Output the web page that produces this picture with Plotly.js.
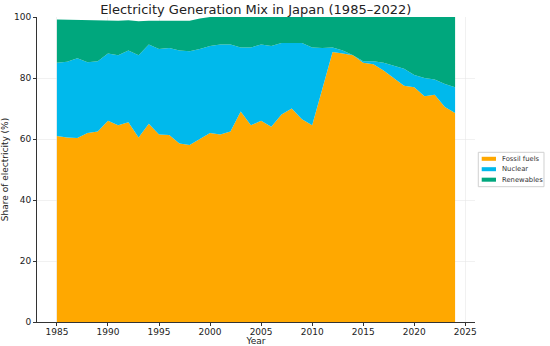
<!DOCTYPE html>
<html>
<head>
<meta charset="utf-8">
<script src="https://cdn.plot.ly/plotly-3.0.1.min.js"></script>
<style>html,body{margin:0;padding:0;background:#fff;}#chart{width:550px;height:346px;}</style>
</head>
<body>
<div id="chart"></div>
<script>
const years = [1985,1986,1987,1988,1989,1990,1991,1992,1993,1994,1995,1996,1997,1998,1999,2000,2001,2002,2003,2004,2005,2006,2007,2008,2009,2010,2011,2012,2013,2014,2015,2016,2017,2018,2019,2020,2021,2022,2023,2024];
const fossil = [61,60.5,60.3,62,62.5,66,64.5,65.5,60.5,65,61.5,61.3,58.5,58,60,62,61.5,62.5,69,64.5,66,64,68,70,66.5,64.5,76.5,88.5,88,87.5,85,84.5,82.5,80,77.5,77,74,74.5,70.5,68.5];
const nuclear = [24,24.8,26.2,23.2,23,22,23,23.5,27,26,28,28.5,30.5,30.8,29.5,28.5,29.5,28.5,21,25.5,25,26.5,23.5,21.5,25,25.5,13.3,1.5,1,0,0.5,1,2.5,4,5.5,4,6,5,7.5,8.5];
const renewables = [14.2,13.8,12.5,13.9,13.5,10.9,11.3,9.9,11.1,7.8,9.3,8.9,9.6,10,10,9.5,9,9,10,10,9,9.5,8.5,8.5,8.5,10,10.2,10,11,12.5,14.5,14.5,15,16,17,19,20,20.5,22,23];
const seriesNames = ["Fossil fuels","Nuclear","Renewables"];
const colors = ["#FFA800","#00B9EC","#00A77D"];
const xTicks = [1985,1990,1995,2000,2005,2010,2015,2020,2025];
const yTicks = [0,20,40,60,80,100];

const data = [fossil, nuclear, renewables].map((v,i)=>({
  x: years, y: v, name: seriesNames[i], type:'scatter', mode:'lines',
  stackgroup:'one', line:{width:0, color:colors[i]}, fillcolor:colors[i], showlegend:false
}));

// compact legend drawn in paper coordinates
const legX0 = 1.0075, legX1 = 1.1575, legY0 = 0.4436, legY1 = 0.5564;
const rowY = [0.5351, 0.5010, 0.4666];
const shapes = [{type:'rect', xref:'paper', yref:'paper', x0:legX0, x1:legX1, y0:legY0, y1:legY1,
  line:{color:'#d0d0d0', width:1}, fillcolor:'#fff', layer:'above'}];
const annotations = [];
seriesNames.forEach((n,i)=>{
  shapes.push({type:'rect', xref:'paper', yref:'paper', x0:1.0153, x1:1.0479, y0:rowY[i]-0.0066, y1:rowY[i]+0.0066,
    line:{width:0}, fillcolor:colors[i], layer:'above'});
  annotations.push({xref:'paper', yref:'paper', x:1.0585, y:rowY[i], xanchor:'left', yanchor:'middle',
    text:n, showarrow:false, font:{size:6.8, color:'#333'}, borderpad:0});
});

const layout = {
  width:550, height:346,
  margin:{l:37,r:75,t:17,b:24, autoexpand:false},
  paper_bgcolor:'#fff', plot_bgcolor:'#fff',
  font:{family:'DejaVu Sans, sans-serif', size:9, color:'#222'},
  title:{text:'Electricity Generation Mix in Japan (1985–2022)', font:{size:13, color:'#222'}, x:0.465, xanchor:'center', y:0.985, yanchor:'top'},
  xaxis:{range:[1983.05,2025.95], tickvals:xTicks, ticks:'outside', ticklen:3, tickcolor:'#333',
    ticklabelstandoff:-2,
    showline:true, linecolor:'#333', linewidth:1, mirror:false,
    showgrid:true, gridcolor:'#e8e8e8', gridwidth:0.6, zeroline:false, automargin:false,
    title:{text:'Year', font:{size:9}, standoff:1}},
  yaxis:{range:[0,100], tickvals:yTicks, ticks:'outside', ticklen:3, tickcolor:'#333',
    showline:true, linecolor:'#333', linewidth:1, automargin:false,
    showgrid:true, gridcolor:'#e8e8e8', gridwidth:0.6, zeroline:false,
    title:{text:'Share of electricity (%)', font:{size:9}, standoff:4}},
  shapes: shapes,
  annotations: annotations,
  showlegend:false
};
Plotly.newPlot('chart', data, layout, {displayModeBar:false, staticPlot:true});
</script>
</body>
</html>
